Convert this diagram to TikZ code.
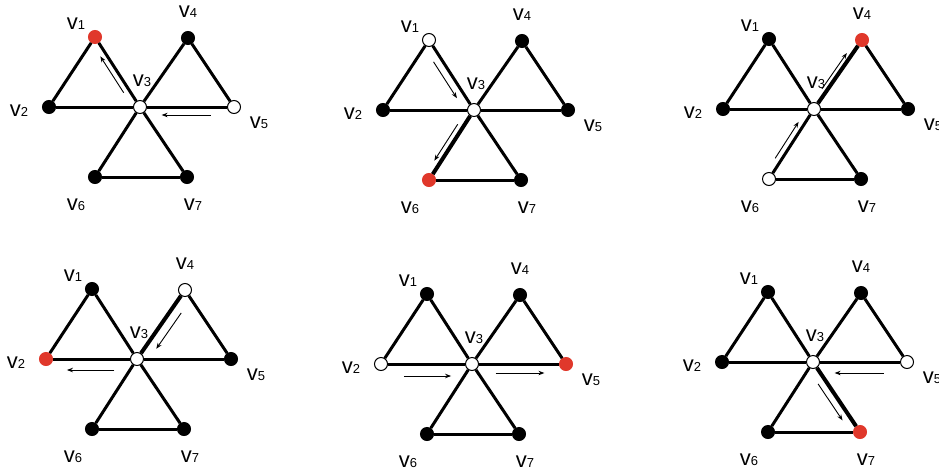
\documentclass[tikz,border=0pt]{standalone}
\usepackage{fontspec}
\setmainfont{Liberation Sans}
\usetikzlibrary{arrows.meta,calc}
\definecolor{hitred}{HTML}{E0382B}
\newcommand{\vx}[1]{{\fontsize{22}{22}\selectfont v}{\fontsize{13}{13}\selectfont #1}}
\newcommand{\windmill}[9]{%
\begin{scope}[shift={(#1,#2)}]
\node[#4] (#3v1) at (-45,-70) {};
\node[#5] (#3v2) at (-91,0) {};
\node[wht] (#3v3) at (0,0) {};
\node[#6] (#3v4) at (48,-69) {};
\node[#7] (#3v5) at (94,0) {};
\node[#8] (#3v6) at (-45,70) {};
\node[#9] (#3v7) at (47,70) {};
\draw[edge,#3e12/.try] (#3v1)--(#3v2);\draw[edge,#3e13/.try] (#3v1)--(#3v3);
\draw[edge,#3e23/.try] (#3v2)--(#3v3);\draw[edge,#3e34/.try] (#3v3)--(#3v4);
\draw[edge,#3e45/.try] (#3v4)--(#3v5);\draw[edge,#3e35/.try] (#3v3)--(#3v5);
\draw[edge,#3e36/.try] (#3v3)--(#3v6);\draw[edge,#3e37/.try] (#3v3)--(#3v7);
\draw[edge,#3e67/.try] (#3v6)--(#3v7);
\node[lab] (#3l1) at (-64,-83) {\vx1};
\node[lab] (#3l2) at (-121,4) {\vx2};
\node[lab] (#3l3) at (2,-26) {\vx3};
\node[lab] (#3l4) at (48,-95) {\vx4};
\node[lab] (#3l5) at (119,16) {\vx5};
\node[lab] (#3l6) at (-64,98) {\vx6};
\node[lab] (#3l7) at (53,98) {\vx7};
\end{scope}}
\newcommand{\mv}[4]{\draw[mv] ($(#1)!0.25!(#2)!#4pt!#3:(#2)$)--($(#1)!0.77!(#2)!#4pt!#3:(#2)$);}
\begin{document}
\begin{tikzpicture}[x=1pt,y=-1pt,
dot/.style={circle,minimum size=13pt,inner sep=0pt,line width=1pt,draw=black},
blk/.style={dot,fill=black},
wht/.style={dot,fill=white},
hit/.style={dot,fill=hitred,draw=hitred},
edge/.style={line width=3pt},
trail/.style={line width=4pt},
lab/.style={inner sep=0pt},
mv/.style={-{Stealth[length=6pt,width=4.5pt]},line width=0.9pt},
be36/.style={trail},ce34/.style={trail},de34/.style={trail},fe37/.style={trail}]
\useasboundingbox (0,0) rectangle (939,474);
\windmill{140}{107}{a}{hit}{blk}{blk}{wht}{blk}{blk}
\windmill{474}{110}{b}{wht}{blk}{blk}{blk}{hit}{blk}
\windmill{814}{109}{c}{blk}{blk}{hit}{blk}{wht}{blk}
\windmill{137}{359}{d}{blk}{hit}{wht}{blk}{blk}{blk}
\windmill{472}{364}{e}{blk}{wht}{blk}{hit}{blk}{blk}
\windmill{813}{362}{f}{blk}{blk}{blk}{wht}{blk}{hit}
\mv{av3}{av1}{90}{6}\mv{av5}{av3}{90}{8}
\mv{bv1}{bv3}{-90}{8}\mv{bv3}{bv6}{-90}{6}
\mv{cv6}{cv3}{90}{6}\mv{cv3}{cv4}{90}{5}
\mv{dv4}{dv3}{90}{10}\mv{dv3}{dv2}{90}{11}
\mv{ev2}{ev3}{-90}{12}\mv{ev3}{ev5}{-90}{9}
\mv{fv5}{fv3}{90}{11}\mv{fv3}{fv7}{-90}{8}
\end{tikzpicture}
\end{document}
